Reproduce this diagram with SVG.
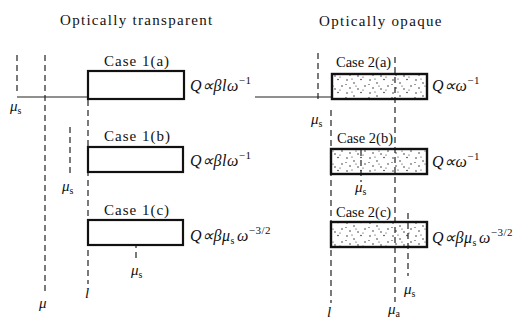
<svg xmlns="http://www.w3.org/2000/svg" width="524" height="321" viewBox="0 0 524 321">
<defs>
<pattern id="dots" width="23" height="13" patternUnits="userSpaceOnUse">
<circle cx="2" cy="2" r="0.75" fill="#222"/>
<circle cx="9" cy="5" r="0.75" fill="#222"/>
<circle cx="16" cy="1.5" r="0.75" fill="#222"/>
<circle cx="20" cy="8" r="0.75" fill="#222"/>
<circle cx="5" cy="10" r="0.75" fill="#222"/>
<circle cx="13" cy="11" r="0.75" fill="#222"/>
<circle cx="11" cy="8" r="0.6" fill="#222"/>
<circle cx="18" cy="12" r="0.6" fill="#222"/>
<circle cx="1" cy="6.5" r="0.6" fill="#222"/>
<circle cx="7" cy="1" r="0.6" fill="#222"/>
</pattern>
<style>
.t{font-family:"Liberation Serif",serif;fill:#111}
.title{font-size:15px;letter-spacing:1.3px}
.case{font-size:15px;letter-spacing:1px}
.case2{font-size:14.5px}
.q{font-size:16px;font-style:italic;letter-spacing:0.5px}
.sym{font-size:15px;font-style:italic}
.sub{font-size:10px;font-style:normal}
.sup{font-size:11px;font-style:normal}
.box{fill:#fff;stroke:#111;stroke-width:2.2}
.dbox{fill:url(#dots);stroke:#111;stroke-width:2.4}
.d{stroke:#222;stroke-width:1.2;stroke-dasharray:6,4;fill:none}
.s{stroke:#222;stroke-width:1.2;fill:none}
</style>
</defs>
<rect width="524" height="321" fill="#fff"/>
<text class="t title" x="60" y="25">Optically transparent</text>
<text class="t title" x="319" y="26">Optically opaque</text>

<g id="connectors">
<line class="d" x1="17" y1="55" x2="17" y2="95"/>
<line class="s" x1="17" y1="97" x2="88" y2="97"/>
<line class="d" x1="45" y1="55" x2="45" y2="292"/>
<line class="d" x1="88" y1="100" x2="88" y2="284"/>
<line class="d" x1="70" y1="127" x2="70" y2="175"/>
<line class="d" x1="136" y1="222" x2="136" y2="262"/>
<line class="s" x1="255" y1="97" x2="332" y2="97"/>
<line class="d" x1="318" y1="53" x2="318" y2="101"/>
<line class="d" x1="395" y1="57" x2="395" y2="302"/>
<line class="d" x1="331" y1="110" x2="331" y2="303"/>
<line class="d" x1="361" y1="150" x2="361" y2="182"/>
<line class="d" x1="408" y1="213" x2="408" y2="276"/>
</g>

<g id="case1a">
<rect class="box" x="88" y="71" width="96" height="28"/>
<text class="t case" x="104" y="66">Case 1(a)</text>
<text class="t q" x="190" y="91">Q∝βl<tspan>ω</tspan><tspan class="sup" dy="-7">−1</tspan></text>
</g>
<g id="case1b">
<rect class="box" x="88" y="147" width="95" height="25"/>
<text class="t case" x="104" y="141">Case 1(b)</text>
<text class="t q" x="190" y="166">Q∝βl<tspan>ω</tspan><tspan class="sup" dy="-7">−1</tspan></text>
</g>
<g id="case1c">
<rect class="box" x="88" y="220" width="95" height="25"/>
<text class="t case" x="104" y="215">Case 1(c)</text>
<text class="t q" x="190" y="241">Q∝βμ<tspan class="sub" dy="3">s</tspan><tspan dx="2" dy="-3">ω</tspan><tspan class="sup" dy="-7">−3/2</tspan></text>
</g>
<g id="case2a">
<rect class="dbox" x="332" y="74" width="95" height="25"/>
<text class="t case2" x="336" y="67">Case 2(a)</text>
<text class="t q" x="432" y="91">Q∝ω<tspan class="sup" dy="-7">−1</tspan></text>
</g>
<g id="case2b">
<rect class="dbox" x="331" y="149" width="96" height="25"/>
<text class="t case2" x="337" y="143">Case 2(b)</text>
<text class="t q" x="432" y="167">Q∝ω<tspan class="sup" dy="-7">−1</tspan></text>
</g>
<g id="case2c">
<rect class="dbox" x="331" y="222" width="96" height="25"/>
<text class="t case2" x="336" y="217">Case 2(c)</text>
<text class="t q" x="432" y="243">Q∝βμ<tspan class="sub" dy="3">s</tspan><tspan dx="2" dy="-3">ω</tspan><tspan class="sup" dy="-7">−3/2</tspan></text>
</g>

<g id="labels">
<text class="t sym" x="10" y="111">μ<tspan class="sub" dy="3">s</tspan></text>
<text class="t sym" x="62" y="191">μ<tspan class="sub" dy="3">s</tspan></text>
<text class="t sym" x="131" y="275">μ<tspan class="sub" dy="3">s</tspan></text>
<text class="t sym" x="85" y="298">l</text>
<text class="t sym" x="39" y="308">μ</text>
<text class="t sym" x="311" y="124">μ<tspan class="sub" dy="3">s</tspan></text>
<text class="t sym" x="355" y="192">μ<tspan class="sub" dy="3">s</tspan></text>
<text class="t sym" x="404" y="294">μ<tspan class="sub" dy="3">s</tspan></text>
<text class="t sym" x="388" y="314">μ<tspan class="sub" dy="3">a</tspan></text>
<text class="t sym" x="327" y="317">l</text>
</g>
</svg>
